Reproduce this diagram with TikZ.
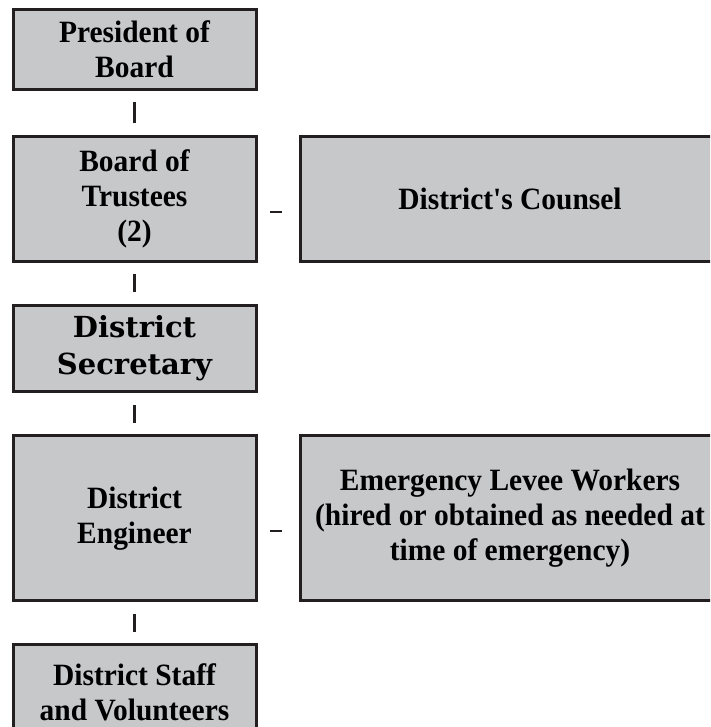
\documentclass[tikz,border=0pt]{standalone}
\usepackage{fontspec}
\setmainfont{Liberation Serif}
\newfontfamily\narrowfont[FakeStretch=0.95]{Liberation Serif}
\newfontfamily\wideserif{DejaVu Serif}
\usetikzlibrary{positioning}
\definecolor{boxgray}{RGB}{199,200,202}
\definecolor{boxline}{RGB}{35,31,32}
\tikzset{post/.style={rectangle,draw=boxline,fill=boxgray,line width=3pt,minimum width=243pt,outer sep=0pt,inner sep=0pt,align=center,font={\narrowfont\bfseries\fontsize{31}{35}\selectfont}}}
\tikzset{sidepost/.style={post,minimum width=420pt}}
\tikzset{tickline/.style={line width=2.5pt,draw=boxline,shorten >=13pt,shorten <=13pt}}
\tikzset{dashline/.style={line width=2.5pt,draw=boxline,shorten <=14pt,shorten >=18pt}}

\begin{document}
\begin{tikzpicture}
\path[use as bounding box] (0,0) rectangle (710pt,-727pt);
\clip (0,0) rectangle (710pt,-727pt);
\begin{scope}[node distance=44pt]
	\node (pres) [post, minimum height=80pt, anchor=north west] at (13pt,-9.5pt) {President of\\Board} ;
	\node (trust) [post, minimum height=124.8pt, below =47pt of pres] {Board of\\Trustees\\(2)} edge [tickline] (pres) ;
	\node (counsel) [sidepost, minimum height=124.8pt, right =of trust] {District's Counsel} ;
	\node (secr) [post, minimum height=86.5pt, below =of trust, font={\wideserif\bfseries\fontsize{29}{37}\selectfont}] {District\\Secretary} edge [tickline] (trust) ;
	\node (eng) [post, minimum height=164.8pt, below =of secr] {District\\Engineer} edge [tickline] (secr) ;
	\node (levee) [sidepost, minimum height=164.8pt, right =of eng] {Emergency Levee Workers\\(hired or obtained as needed at\\time of emergency)} ;
	\node (staff) [post, minimum height=96pt, below =of eng] {District Staff\\and Volunteers} edge [tickline] (eng) ;
	\draw [dashline] ([yshift=-13pt]trust.east) -- ([yshift=-13pt]counsel.west) ;
	\draw [dashline] ([yshift=-13pt]eng.east) -- ([yshift=-13pt]levee.west) ;
\end{scope}
\end{tikzpicture}
\end{document}
